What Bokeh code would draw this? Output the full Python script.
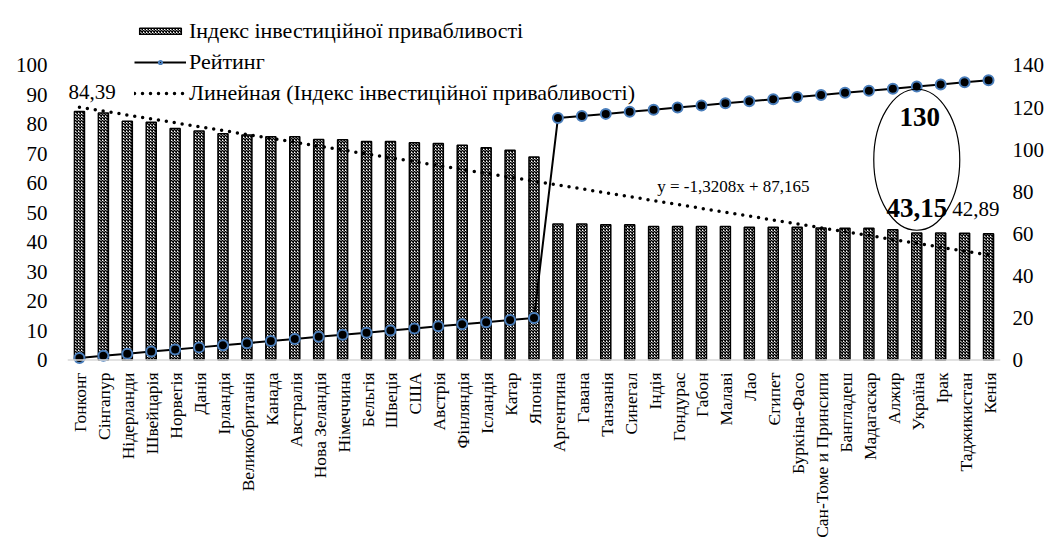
import math
from bokeh.plotting import figure
from bokeh.models import (Range1d, FactorRange, LinearAxis, FixedTicker, Legend, LegendItem,
                          LabelSet, ColumnDataSource, Span)
from bokeh.embed import file_html
from bokeh.resources import INLINE

categories = ["Гонконг", "Сінгапур", "Нідерланди", "Швейцарія", "Норвегія", "Данія", "Ірландія",
              "Великобританія", "Канада", "Австралія", "Нова Зеландія", "Німеччина", "Бельгія",
              "Швеція", "США", "Австрія", "Фінляндія", "Ісландія", "Катар", "Японія",
              "Аргентина", "Гавана", "Танзанія", "Синегал", "Індія", "Гондурас", "Габон", "Малаві",
              "Лао", "Єгипет", "Буркіна-Фасо", "Сан-Томе и Принсипи", "Бангладеш", "Мадагаскар",
              "Алжир", "Україна", "Ірак", "Таджикистан", "Кенія"]
index_values = [84.39, 83.9, 81.1, 80.7, 78.6, 77.8, 76.8, 76.4, 75.8, 75.8, 74.9, 74.8, 74.2,
                74.2, 73.8, 73.5, 72.9, 72.1, 71.2, 68.9,
                46.2, 46.2, 45.9, 45.9, 45.3, 45.3, 45.3, 45.3, 45.1, 45.1, 45.1, 44.8, 44.7,
                44.7, 44.2, 43.15, 43.1, 43.0, 42.89]
rating = [1, 2, 3, 4, 5, 6, 7, 8, 9, 10, 11, 12, 13, 14, 15, 16, 17, 18, 19, 20,
          115, 116, 117, 118, 119, 120, 121, 122, 123, 124, 125, 126, 127, 128, 129, 130, 131, 132, 133]
trend_x = [categories[0], categories[-1]]
trend_y = [85.84, 35.65]          # y = -1,3208x + 87,165 at first and last category
left_ticks = [0, 10, 20, 30, 40, 50, 60, 70, 80, 90, 100]
right_ticks = [0, 20, 40, 60, 80, 100, 120, 140]
equation = "y = -1,3208x + 87,165"

FONT = "Liberation Serif"
Y_START, Y_END = -61.63, 122.07
R = 1.4  # right axis units per left axis unit


def fmt(v):
    return f"{v:.2f}".replace(".", ",")


p = figure(x_range=FactorRange(*categories), y_range=Range1d(Y_START, Y_END),
           width=1047, height=541, output_backend="svg", toolbar_location=None,
           min_border_left=67, min_border_right=45, min_border_top=0, min_border_bottom=0)
p.extra_y_ranges = {"r": Range1d(Y_START * R, Y_END * R)}
p.xgrid.visible = False
p.ygrid.visible = False
p.xaxis.visible = False
p.outline_line_color = None
p.background_fill_color = "white"

# category axis baseline
p.add_layout(Span(location=0, dimension="width", line_color="#D9D9D9", line_width=1.5))

bars = p.vbar(x=categories, top=index_values, bottom=0, width=0.42, fill_color="white",
              line_color="black", line_width=1.5, hatch_pattern="x", hatch_scale=3,
              hatch_weight=1.5, hatch_color="black")

trend = p.line(x=trend_x, y=trend_y, line_color="black", line_width=3.5, line_dash="0 8",
               line_cap="round")

rline = p.line(x=categories, y=rating, y_range_name="r", line_color="black", line_width=2)
rpts = p.scatter(x=categories, y=rating, y_range_name="r", size=10, fill_color="black",
                 line_color="#4A7EBB", line_width=2)

# value axes
la = p.yaxis[0]
la.ticker = FixedTicker(ticks=left_ticks)
la.axis_line_color = None
la.major_tick_line_color = None
la.minor_tick_line_color = None
la.major_tick_out = 0
la.major_tick_in = 0
la.major_label_standoff = 20
la.major_label_text_font = FONT
la.major_label_text_font_size = "21px"
la.major_label_text_color = "black"

ra = LinearAxis(y_range_name="r", ticker=FixedTicker(ticks=right_ticks))
ra.axis_line_color = None
ra.major_tick_line_color = None
ra.minor_tick_line_color = None
ra.major_tick_out = 0
ra.major_tick_in = 0
ra.major_label_standoff = 12
ra.major_label_text_font = FONT
ra.major_label_text_font_size = "21px"
ra.major_label_text_color = "black"
p.add_layout(ra, "right")

# category labels (vertical, hanging below the baseline)
cat_src = ColumnDataSource(dict(x=categories, y=[0] * len(categories), t=categories))
p.add_layout(LabelSet(x="x", y="y", text="t", source=cat_src, angle=math.pi / 2,
                      text_align="right", text_baseline="middle", y_offset=-12.5, x_offset=1,
                      text_font=FONT, text_font_size="17.5px", text_color="black"))

# data labels
ua = categories.index("Україна")
first_src = ColumnDataSource(dict(x=[categories[0]], y=[index_values[0]], t=[fmt(index_values[0])]))
p.add_layout(LabelSet(x="x", y="y", text="t", source=first_src, x_offset=-11, y_offset=19,
                      text_align="left", text_baseline="middle", text_font=FONT,
                      text_font_size="21px", text_color="black"))
last_src = ColumnDataSource(dict(x=[categories[-1]], y=[index_values[-1]], t=[fmt(index_values[-1])]))
p.add_layout(LabelSet(x="x", y="y", text="t", source=last_src, x_offset=11, y_offset=25,
                      text_align="right", text_baseline="middle", text_font=FONT,
                      text_font_size="21px", text_color="black"))
ua_src = ColumnDataSource(dict(x=[categories[ua]], y=[index_values[ua]], t=[fmt(index_values[ua])]))
p.add_layout(LabelSet(x="x", y="y", text="t", source=ua_src, x_offset=0, y_offset=25,
                      text_align="center", text_baseline="middle", text_font=FONT,
                      text_font_size="27px", text_font_style="bold", text_color="black"))
r_src = ColumnDataSource(dict(x=[categories[ua]], y=[rating[ua]], t=[str(rating[ua])]))
p.add_layout(LabelSet(x="x", y="y", text="t", source=r_src, y_range_name="r", x_offset=3,
                      y_offset=-30, text_align="center", text_baseline="middle", text_font=FONT,
                      text_font_size="27px", text_font_style="bold", text_color="black"))
mid = (index_values[ua] + rating[ua] / R) / 2
p.ellipse(x=[categories[ua]], y=[mid], width=86, height=141, width_units="screen",
          height_units="screen", fill_color=None, line_color="black", line_width=1.2)

ei = 27
eq_src = ColumnDataSource(dict(x=[categories[ei]],
                               y=[trend_y[0] + (trend_y[1] - trend_y[0]) * ei / (len(categories) - 1)],
                               t=[equation]))
p.add_layout(LabelSet(x="x", y="y", text="t", source=eq_src, x_offset=8, y_offset=26,
                      text_align="center", text_baseline="middle", text_font=FONT,
                      text_font_size="17px", text_color="black"))

legend = Legend(items=[
    LegendItem(label="Індекс інвестиційної привабливості", renderers=[bars]),
    LegendItem(label="Рейтинг", renderers=[rline, rpts]),
    LegendItem(label="Линейная (Індекс інвестиційної привабливості)", renderers=[trend]),
], location=(67, 435))
legend.background_fill_alpha = 0
legend.border_line_color = None
legend.padding = 0
legend.margin = 0
legend.spacing = 5
legend.glyph_width = 52
legend.glyph_height = 8
legend.label_height = 25
legend.label_standoff = 3
legend.label_text_font = FONT
legend.label_text_font_size = "22px"
legend.label_text_color = "black"
p.add_layout(legend, "center")

open("out.html", "w").write(file_html(p, INLINE))
